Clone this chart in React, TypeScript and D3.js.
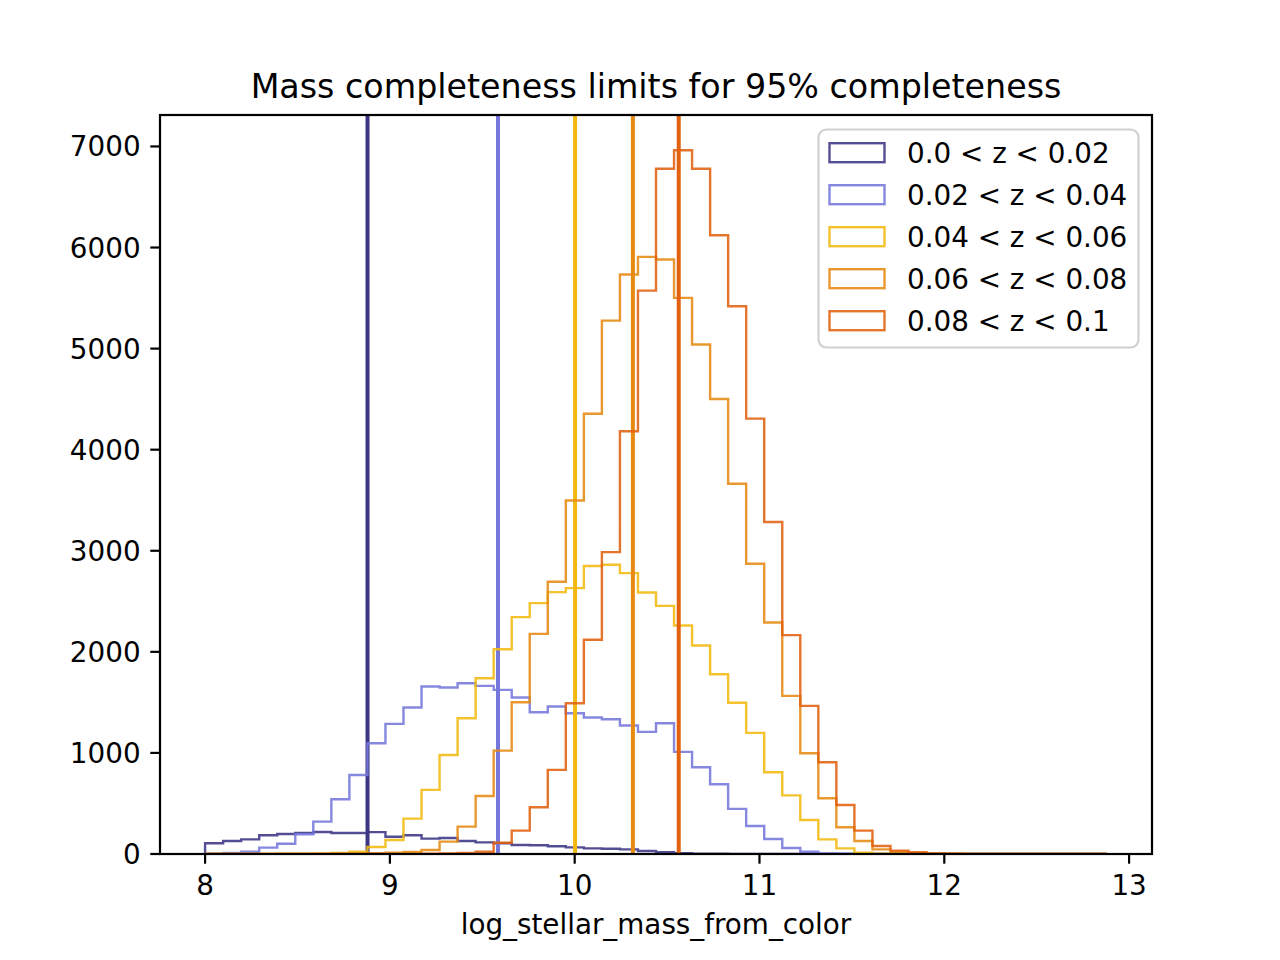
import * as d3 from "d3";

// histogram bins: 50 bins shared by every redshift slice
const binMin = 8.0;
const binMax = 12.88;
const nBins = 50;

const labels = [
  "0.0 < z < 0.02",
  "0.02 < z < 0.04",
  "0.04 < z < 0.06",
  "0.06 < z < 0.08",
  "0.08 < z < 0.1",
];

const colors = ["#3b3584", "#7577dc", "#f1b90f", "#e68a12", "#e1610f"];

// counts per bin
const countsZ0 = [
  106, 129, 145, 185, 198, 208, 218, 208, 208, 216, 171, 185, 152, 158, 129, 115, 106, 89, 86, 76,
  66, 56, 52, 46, 30, 18, 8, 4, 2, 1, 0, 0, 0, 0, 0, 0, 0, 0, 0, 0,
  0, 0, 0, 0, 0, 0, 0, 0, 0, 0,
];
const countsZ1 = [
  3, 10, 23, 63, 102, 195, 320, 541, 782, 1096, 1287, 1449, 1657, 1647, 1690, 1663, 1624, 1548, 1403, 1459,
  1393, 1350, 1333, 1271, 1208, 1294, 1010, 858, 690, 446, 277, 149, 60, 23, 6, 2, 0, 0, 0, 0,
  0, 0, 0, 0, 0, 0, 0, 0, 0, 0,
];
const countsZ2 = [
  0, 0, 0, 1, 2, 3, 5, 10, 22, 70, 138, 350, 634, 980, 1343, 1739, 2026, 2343, 2482, 2591,
  2630, 2850, 2861, 2779, 2587, 2455, 2260, 2063, 1779, 1497, 1198, 809, 580, 337, 145, 56, 12, 3, 1, 0,
  0, 0, 0, 0, 0, 0, 0, 0, 0, 0,
];
const countsZ3 = [
  0, 0, 0, 0, 0, 0, 1, 2, 4, 8, 13, 20, 40, 122, 271, 574, 1023, 1502, 2178, 2693,
  3498, 4355, 5277, 5733, 5908, 5881, 5502, 5040, 4502, 3663, 2871, 2290, 1564, 997, 551, 264, 129, 46, 23, 5,
  2, 0, 0, 0, 0, 0, 0, 0, 0, 0,
];
const countsZ4 = [
  0, 0, 0, 0, 0, 0, 0, 0, 0, 0, 0, 0, 2, 5, 10, 23, 112, 231, 462, 832,
  1492, 2119, 2987, 4182, 5574, 6779, 6963, 6779, 6122, 5419, 4307, 3284, 2165, 1465, 908, 485, 231, 79, 33, 17,
  5, 2, 1, 0, 0, 0, 0, 0, 0, 0,
];
const allCounts = [countsZ0, countsZ1, countsZ2, countsZ3, countsZ4];

// 95% completeness mass limits
const massLimits = [8.879, 9.585, 10.002, 10.315, 10.563];

const xTicks = [8, 9, 10, 11, 12, 13];
const yTicks = [0, 1000, 2000, 3000, 4000, 5000, 6000, 7000];

const W = 1280;
const H = 960;
const left = 160;
const right = 1152;
const top = 115;
const bottom = 854;
const font = "DejaVu Sans";

const App = () => {
  const pad = (binMax - binMin) * 0.05;
  const x = d3.scaleLinear().domain([binMin - pad, binMax + pad]).range([left, right]);
  const yMax = d3.max(allCounts, (c) => d3.max(c)) * 1.05;
  const y = d3.scaleLinear().domain([0, yMax]).range([bottom, top]);

  const edges = d3.range(nBins + 1).map((k) => binMin + (k * (binMax - binMin)) / nBins);

  const stepPath = (counts) => {
    const pts = [[edges[0], 0]];
    counts.forEach((c, k) => {
      pts.push([edges[k], c]);
      pts.push([edges[k + 1], c]);
    });
    pts.push([edges[nBins], 0]);
    return d3.line().x((d) => x(d[0])).y((d) => y(d[1]))(pts);
  };

  return (
    <div style={{ position: "absolute", left: 0, top: 0 }}>
      <svg width={W} height={H} style={{ display: "block", background: "#fff" }}>
        <defs>
          <clipPath id="plot">
            <rect x={left} y={top} width={right - left} height={bottom - top} />
          </clipPath>
        </defs>

        <g clipPath="url(#plot)">
          {allCounts.map((counts, i) => (
            <g key={i}>
              <path d={stepPath(counts)} fill="none" stroke={colors[i]} strokeOpacity={0.88} strokeWidth={2.4} />
              <line
                x1={x(massLimits[i])}
                x2={x(massLimits[i])}
                y1={top}
                y2={bottom}
                stroke={colors[i]}
                strokeWidth={4}
              />
            </g>
          ))}
        </g>

        {/* axes frame */}
        <rect x={left} y={top} width={right - left} height={bottom - top} fill="none" stroke="#000" strokeWidth={2.2} />

        {xTicks.map((t) => (
          <g key={t}>
            <line x1={x(t)} x2={x(t)} y1={bottom} y2={bottom + 9.7} stroke="#000" strokeWidth={2.2} />
            <text x={x(t)} y={895} textAnchor="middle" fontFamily={font} fontSize={27.8}>
              {t}
            </text>
          </g>
        ))}
        {yTicks.map((t) => (
          <g key={t}>
            <line x1={left - 9.7} x2={left} y1={y(t)} y2={y(t)} stroke="#000" strokeWidth={2.2} />
            <text x={140.6} y={y(t) + 10} textAnchor="end" fontFamily={font} fontSize={27.8}>
              {t}
            </text>
          </g>
        ))}

        <text x={(left + right) / 2} y={98} textAnchor="middle" fontFamily={font} fontSize={33.3}>
          Mass completeness limits for 95% completeness
        </text>
        <text x={(left + right) / 2} y={934} textAnchor="middle" fontFamily={font} fontSize={27.8}>
          log_stellar_mass_from_color
        </text>

        {/* legend */}
        <g>
          <rect x={818.5} y={129.5} width={320} height={218} rx={8} fill="#fff" fillOpacity={0.8} stroke="#d0d0d0" strokeWidth={2.2} />
          {labels.map((lab, i) => {
            const cy = 152.7 + i * 42;
            return (
              <g key={lab}>
                <rect x={829.5} y={cy - 9.5} width={55} height={19} fill="none" stroke={colors[i]} strokeOpacity={0.88} strokeWidth={2.4} />
                <text x={907} y={cy + 10} fontFamily={font} fontSize={27.8}>
                  {lab}
                </text>
              </g>
            );
          })}
        </g>
      </svg>
    </div>
  );
};

export default App;
